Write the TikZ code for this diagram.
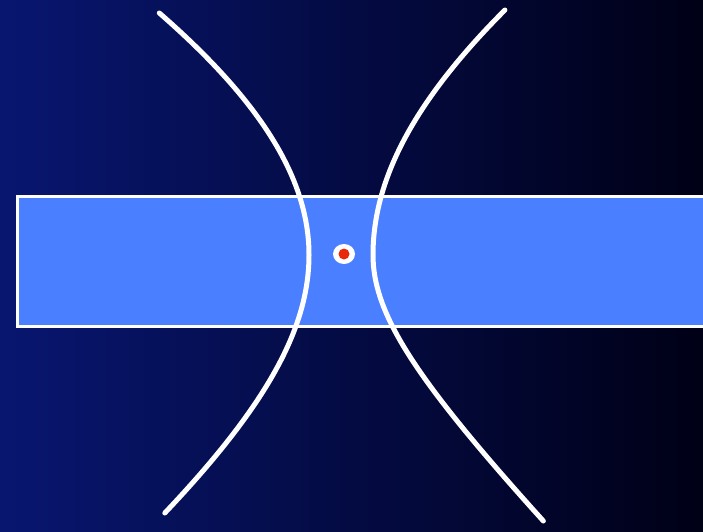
\documentclass[tikz,border=0pt]{standalone}
\usetikzlibrary{calc}

\definecolor{navyleft}{RGB}{8,22,112}
\definecolor{navyright}{RGB}{0,0,22}
\definecolor{slabblue}{RGB}{74,128,255}
\definecolor{dotred}{RGB}{232,40,10}

\begin{document}
\begin{tikzpicture}[
  x=0.03cm, y=-0.03cm,
  branch/.style={draw=white, line width=0.15cm, line cap=round},
  slab/.style={fill=slabblue, draw=white, line width=0.09cm}
]

\useasboundingbox (0,0) rectangle (703,531);
\clip (0,0) rectangle (703,531);

% background
\shade[left color=navyleft, right color=navyright] (0,0) rectangle (703,531);

% bar
\draw[slab] (17.5,196.5) rectangle (720,326.5);

% left branch
\draw[branch] plot[domain=-242:0, samples=50] ({309-887*(sqrt(1+(\x/400)^2)-1)}, {255+\x})
  -- plot[domain=0:258, samples=50] ({309-330*(sqrt(1+(\x/250)^2)-1)}, {255+\x});

% right branch
\draw[branch] plot[domain=-245:0, samples=50] ({373+764*(sqrt(1+(\x/400)^2)-1)}, {255+\x})
  -- plot[domain=0:266, samples=50] ({373+119*(sqrt(1+(\x/120)^2)-1)}, {255+\x});

% point
\fill[white] (344,254) ellipse [x radius=11, y radius=10];
\fill[dotred] (344,254) circle [radius=5.5];

\end{tikzpicture}
\end{document}
